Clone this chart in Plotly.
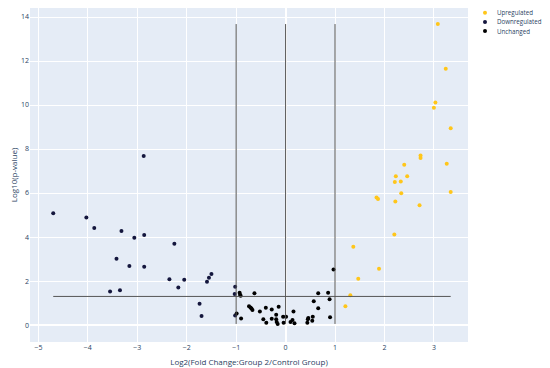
import plotly.graph_objects as go

# Upregulated (log2 FC > 1)
up_x = [3.08, 3.24, 3.03, 3.00, 3.34, 2.73, 2.73, 2.40, 3.26, 2.23, 2.46, 2.21, 2.33,
        2.34, 3.34, 1.84, 1.87, 2.22, 2.71, 2.20, 1.37, 1.89, 1.47, 1.31, 1.21]
up_y = [13.68, 11.65, 10.12, 9.88, 8.94, 7.71, 7.59, 7.29, 7.33, 6.76, 6.76, 6.50, 6.53,
        5.99, 6.05, 5.80, 5.73, 5.62, 5.45, 4.12, 3.56, 2.56, 2.10, 1.35, 0.85]

# Downregulated (log2 FC < -1)
down_x = [-4.70, -4.03, -3.87, -3.32, -3.06, -2.86, -2.87, -2.25, -3.42, -3.16, -2.86,
          -2.35, -2.05, -2.17, -3.55, -3.35, -1.74, -1.59, -1.55, -1.50, -1.70, -1.02,
          -1.03, -1.02]
down_y = [5.08, 4.89, 4.41, 4.27, 3.97, 4.09, 7.68, 3.70, 3.01, 2.68, 2.65,
          2.08, 2.06, 1.71, 1.52, 1.58, 0.97, 1.97, 2.15, 2.32, 0.41, 1.74,
          1.41, 0.44]

# Unchanged
unch_x = [-0.93, -0.92, -0.91, -0.63, -0.99, -0.90, -0.74, -0.71, -0.69, -0.67, -0.52,
          -0.40, -0.28, -0.14, -0.45, -0.39, -0.28, -0.19, -0.19, -0.18, -0.16, -0.05,
          0.01, -0.04, 0.10, 0.14, 0.18, 0.16, 0.44, 0.45, 0.46, 0.54, 0.55, 0.57,
          0.66, 0.66, 0.86, 0.89, 0.90, 0.97]
unch_y = [1.47, 1.38, 1.33, 1.44, 0.52, 0.30, 0.85, 0.80, 0.75, 0.68, 0.62,
          0.79, 0.71, 0.83, 0.26, 0.11, 0.29, 0.47, 0.26, 0.14, 0.05, 0.38,
          0.38, 0.11, 0.14, 0.23, 0.08, 0.62, 0.11, 0.26, 0.32, 0.20, 0.38, 1.08,
          0.76, 1.44, 1.47, 1.17, 0.36, 2.53]

series_names = ["Upregulated", "Downregulated", "Unchanged"]
series_colors = ["#FFC61A", "#14163d", "#000000"]
fc_lines = [-1, 0, 1]
p_threshold = 1.301

fig = go.Figure()
for (xs, ys), name, col in zip([(up_x, up_y), (down_x, down_y), (unch_x, unch_y)],
                               series_names, series_colors):
    fig.add_trace(go.Scatter(x=xs, y=ys, mode="markers", name=name, showlegend=False,
                             marker=dict(color=col, size=4)))

all_x = up_x + down_x + unch_x
all_y = up_y + down_y + unch_y
fig.add_shape(type="line", x0=min(all_x), x1=max(all_x), y0=p_threshold, y1=p_threshold,
              line=dict(color="#555555", width=1))
for v in fc_lines:
    fig.add_shape(type="line", x0=v, x1=v, y0=min(all_y), y1=max(all_y),
                  line=dict(color="#555555", width=1))

# compact legend (paper coordinates)
plot_w, plot_h = 438, 334
leg_y = [0.9859, 0.9581, 0.9311]
mx = 1.0388
tx = 1.0616
for name, col, ly in zip(series_names, series_colors, leg_y):
    r_x, r_y = 2.0 / plot_w, 2.0 / plot_h
    fig.add_shape(type="circle", xref="paper", yref="paper",
                  x0=mx - r_x, x1=mx + r_x, y0=ly - r_y, y1=ly + r_y,
                  fillcolor=col, line=dict(width=0))
    fig.add_annotation(text=name, xref="paper", yref="paper", x=tx, y=ly,
                       xanchor="left", yanchor="middle", showarrow=False,
                       font=dict(size=6.2, color="#2a3f5f"))

fig.update_layout(
    width=550, height=368,
    margin=dict(l=22, r=90, t=0, b=34, autoexpand=False),
    font=dict(family="Open Sans, sans-serif", size=7, color="#2a3f5f"),
    plot_bgcolor="#E5ECF6", paper_bgcolor="white",
    xaxis=dict(title=dict(text="Log2(Fold Change:Group 2/Control Group)", standoff=8),
               range=[-5.17, 3.69], dtick=1, gridcolor="white", zerolinecolor="white",
               zerolinewidth=2, automargin=False),
    yaxis=dict(title=dict(text="Log10(p-value)", standoff=11),
               range=[-0.77, 14.41], dtick=2, gridcolor="white", zerolinecolor="white",
               zerolinewidth=2, automargin=False),
)
fig.write_html("out.html")
